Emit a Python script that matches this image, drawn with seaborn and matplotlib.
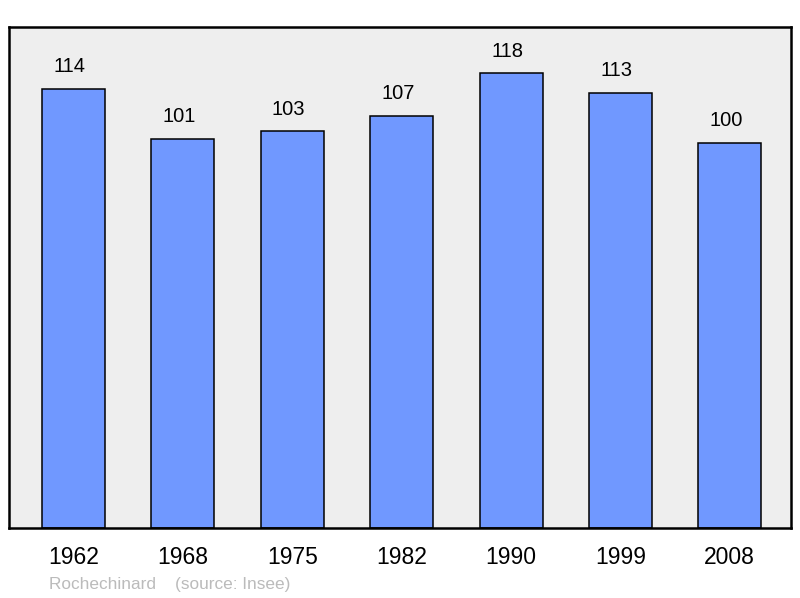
import matplotlib
matplotlib.use("Agg")
import matplotlib.pyplot as plt
import seaborn as sns
import pandas as pd

# data
years = ["1962", "1968", "1975", "1982", "1990", "1999", "2008"]
population = [114, 101, 103, 107, 118, 113, 100]

df = pd.DataFrame({"year": years, "pop": population})

sns.set_style("white")
plt.rcParams['font.family'] = ['Liberation Sans', 'DejaVu Sans']

fig = plt.figure(figsize=(8, 5.98), dpi=100)
ax = fig.add_axes([9 / 800, 1 - 528 / 598, 782 / 800, 501 / 598])
ax.set_facecolor('#eeeeee')

sns.barplot(data=df, x='year', y='pop', color='#7098ff', saturation=1,
            width=0.576, edgecolor='black', linewidth=1.1, ax=ax)

# value labels sit a little left of the bar centre in the original
for i, v in enumerate(population):
    ax.text(i - 0.035, v + 3.2, str(v), ha='center', va='bottom',
            fontsize=14.5, color='black')

ax.set_xlim(-0.59, 6.56)
ax.set_ylim(0, 130)
ax.set_yticks([])
ax.set_xlabel('')
ax.set_ylabel('')
ax.tick_params(axis='x', length=0, labelsize=16.5, pad=13, labelcolor='black')
for s in ax.spines.values():
    s.set_visible(True)
    s.set_color('black')
    s.set_linewidth(1.8)

fig.text(49 / 800, 1 - 584 / 598, 'Rochechinard    (source: Insee)', fontsize=12.4,
         color='#bbbbbb', va='center', ha='left')

fig.savefig('out.png', dpi=100)
